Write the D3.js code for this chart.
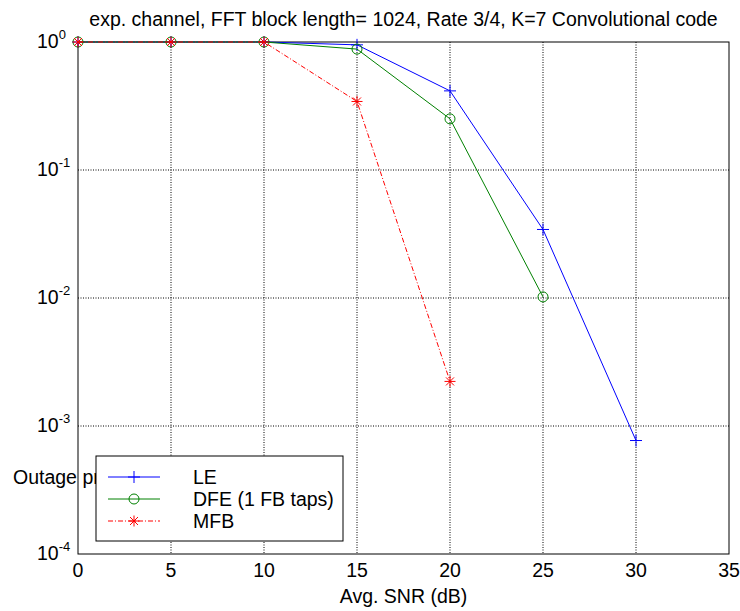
<!DOCTYPE html>
<html>
<head>
<meta charset="utf-8">
<script src="https://cdn.jsdelivr.net/npm/d3@7"></script>
<style>
  body { margin: 0; background: #fff; }
  text { font-family: Arial, "Liberation Sans", sans-serif; fill: #000; }
</style>
</head>
<body>
<div id="chart"></div>
<script>
// SNR points (dB) and outage probability per equalizer
const leSnr = [0, 5, 10, 15, 20, 25, 30];
const leOutage = [1, 1, 1, 0.95, 0.415, 0.0343, 0.00077];
const dfeSnr = [0, 5, 10, 15, 20, 25];
const dfeOutage = [1, 1, 1, 0.88, 0.251, 0.0102];
const mfbSnr = [0, 5, 10, 15, 20];
const mfbOutage = [1, 1, 1, 0.343, 0.00223];

const xTicks = [0, 5, 10, 15, 20, 25, 30, 35];
const yTicks = [1, 1e-1, 1e-2, 1e-3, 1e-4];
const seriesNames = ["LE", "DFE (1 FB taps)", "MFB"];

const W = 740, H = 611;
const plot = { left: 78, right: 729, top: 42, bottom: 554 };
const fs = 19.5;

const svg = d3.select("#chart").append("svg")
    .attr("width", W)
    .attr("height", H);

const x = d3.scaleLinear().domain([0, 35]).range([plot.left, plot.right]);
const y = d3.scaleLog().domain([1e-4, 1]).range([plot.bottom, plot.top]);

// grid (MATLAB style dotted)
svg.append("g").selectAll("line")
    .data(xTicks.slice(1, -1))
    .enter().append("line")
    .attr("x1", d => x(d)).attr("x2", d => x(d))
    .attr("y1", plot.top).attr("y2", plot.bottom)
    .attr("stroke", "#000").attr("stroke-width", 1)
    .attr("stroke-dasharray", "1,1.5");

svg.append("g").selectAll("line")
    .data(yTicks.slice(1, -1))
    .enter().append("line")
    .attr("x1", plot.left).attr("x2", plot.right)
    .attr("y1", d => y(d)).attr("y2", d => y(d))
    .attr("stroke", "#000").attr("stroke-width", 1)
    .attr("stroke-dasharray", "1,1.5");

// axes box
svg.append("rect")
    .attr("x", plot.left).attr("y", plot.top)
    .attr("width", plot.right - plot.left).attr("height", plot.bottom - plot.top)
    .attr("fill", "none").attr("stroke", "#000").attr("stroke-width", 1);

// x tick labels
svg.append("g").selectAll("text")
    .data(xTicks)
    .enter().append("text")
    .attr("x", d => x(d)).attr("y", plot.bottom + 23)
    .attr("text-anchor", "middle")
    .style("font-size", fs + "px")
    .text(d => d);

// y tick labels 10^n
const yLab = svg.append("g").selectAll("text")
    .data(yTicks)
    .enter().append("text")
    .attr("x", plot.left - 41).attr("y", d => y(d) + 6)
    .style("font-size", fs + "px");
yLab.append("tspan").text("10");
yLab.append("tspan")
    .attr("dy", -9)
    .style("font-size", "13px")
    .text(d => Math.round(Math.log10(d)));

// title and labels
svg.append("text")
    .attr("x", (plot.left + plot.right) / 2).attr("y", 26)
    .attr("text-anchor", "middle")
    .style("font-size", fs + "px")
    .text("exp. channel, FFT block length= 1024, Rate 3/4, K=7 Convolutional code");

svg.append("text")
    .attr("x", (plot.left + plot.right) / 2).attr("y", 603)
    .attr("text-anchor", "middle")
    .style("font-size", fs + "px")
    .text("Avg. SNR (dB)");

svg.append("text")
    .attr("x", 13).attr("y", 484)
    .style("font-size", fs + "px")
    .text("Outage probability");

// markers
function plus(g, cx, cy, color) {
    g.append("path")
        .attr("d", `M${cx - 6},${cy}H${cx + 6}M${cx},${cy - 6}V${cy + 6}`)
        .attr("stroke", color).attr("fill", "none");
}
function ring(g, cx, cy, color) {
    g.append("circle").attr("cx", cx).attr("cy", cy).attr("r", 5)
        .attr("stroke", color).attr("fill", "none");
}
function star(g, cx, cy, color) {
    const r = 5.5, d = 4;
    g.append("path")
        .attr("d", `M${cx - r},${cy}H${cx + r}M${cx},${cy - r}V${cy + r}` +
            `M${cx - d},${cy - d}L${cx + d},${cy + d}M${cx - d},${cy + d}L${cx + d},${cy - d}`)
        .attr("stroke", color).attr("fill", "none");
}

const series = [
    { name: seriesNames[0], xs: leSnr, ys: leOutage, color: "#0000ff", dash: null, marker: plus },
    { name: seriesNames[1], xs: dfeSnr, ys: dfeOutage, color: "#008000", dash: null, marker: ring },
    { name: seriesNames[2], xs: mfbSnr, ys: mfbOutage, color: "#ff0000", dash: "5,2,1,2", marker: star }
];

const line = d3.line().x(d => x(d[0])).y(d => y(d[1]));

series.forEach(s => {
    const pts = s.xs.map((v, i) => [v, s.ys[i]]);
    const g = svg.append("g");
    g.append("path")
        .datum(pts)
        .attr("d", line)
        .attr("fill", "none")
        .attr("stroke", s.color)
        .attr("stroke-width", 1)
        .attr("stroke-dasharray", s.dash);
    pts.forEach(p => s.marker(g, x(p[0]), y(p[1]), s.color));
});

// legend
const lg = svg.append("g");
lg.append("rect")
    .attr("x", 96).attr("y", 456)
    .attr("width", 247).attr("height", 85)
    .attr("fill", "#fff").attr("stroke", "#000");

series.forEach((s, i) => {
    const ly = 477 + i * 22;
    lg.append("line")
        .attr("x1", 108).attr("x2", 160)
        .attr("y1", ly).attr("y2", ly)
        .attr("stroke", s.color)
        .attr("stroke-dasharray", s.dash);
    s.marker(lg, 134, ly, s.color);
    lg.append("text")
        .attr("x", 193).attr("y", ly + 7)
        .style("font-size", fs + "px")
        .text(s.name);
});
</script>
</body>
</html>
